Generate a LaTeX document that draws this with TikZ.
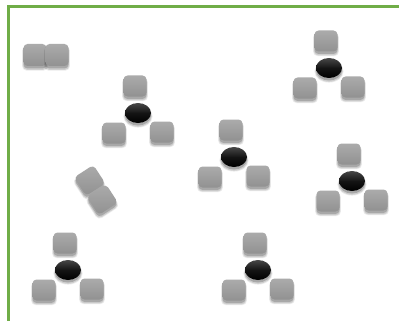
\documentclass[tikz,border=0pt]{standalone}
\usetikzlibrary{shadows,shapes.geometric}
\definecolor{framegreen}{HTML}{70AD47}
\tikzset{
  softshadow/.style={
    general shadow={shadow xshift=0pt, shadow yshift=-3pt, shadow scale=1.12, fill=black, opacity=0.08},
    general shadow={shadow xshift=0pt, shadow yshift=-3pt, shadow scale=1.06, fill=black, opacity=0.12},
    general shadow={shadow xshift=0pt, shadow yshift=-2.5pt, shadow scale=1.0, fill=black, opacity=0.18}},
  atomsq/.style={rectangle, rounded corners=4pt, minimum width=23pt, minimum height=21pt,
    inner sep=0pt, top color=black!33, bottom color=black!43, draw=none, softshadow},
  atomball/.style={ellipse, minimum width=26pt, minimum height=20pt, inner sep=0pt,
    top color=black!72, bottom color=black, middle color=black!92, draw=none, softshadow},
  framestyle/.style={draw=framegreen, line width=3pt}
}
\begin{document}
\begin{tikzpicture}[x=1pt,y=-1pt]
\useasboundingbox (0,0) rectangle (399,321);
\fill[white] (0,0) rectangle (399,321);
\coordinate (f1) at (8,321);
\coordinate (f2) at (8,7);
\coordinate (f3) at (399,7);
\draw[framestyle] (f1) -- (f2) -- (f3);
% molecules: ellipse centre, top (-3,-27), bottom-left (-24,20), bottom-right (24,19)
\foreach \n/\cx/\cy in {a/138/113, b/329/68, c/234/157, d/352/181, e/258/270, f/68/270}{
  \node[atomsq] (\n t) at (\cx-3,\cy-27) {};
  \node[atomsq] (\n l) at (\cx-24,\cy+20) {};
  \node[atomsq] (\n r) at (\cx+24,\cy+19) {};
  \node[atomball] (\n c) at (\cx,\cy) {};
}
% horizontal pair
\node[atomsq, minimum height=22pt] (p1) at (35,55) {};
\node[atomsq, minimum height=22pt] (p2) at (57,55) {};
% tilted pair
\node[atomsq, minimum height=22pt, rotate=33] (q1) at (89.7,180.4) {};
\node[atomsq, minimum height=22pt, rotate=33] (q2) at (102.3,199.6) {};
\end{tikzpicture}
\end{document}
